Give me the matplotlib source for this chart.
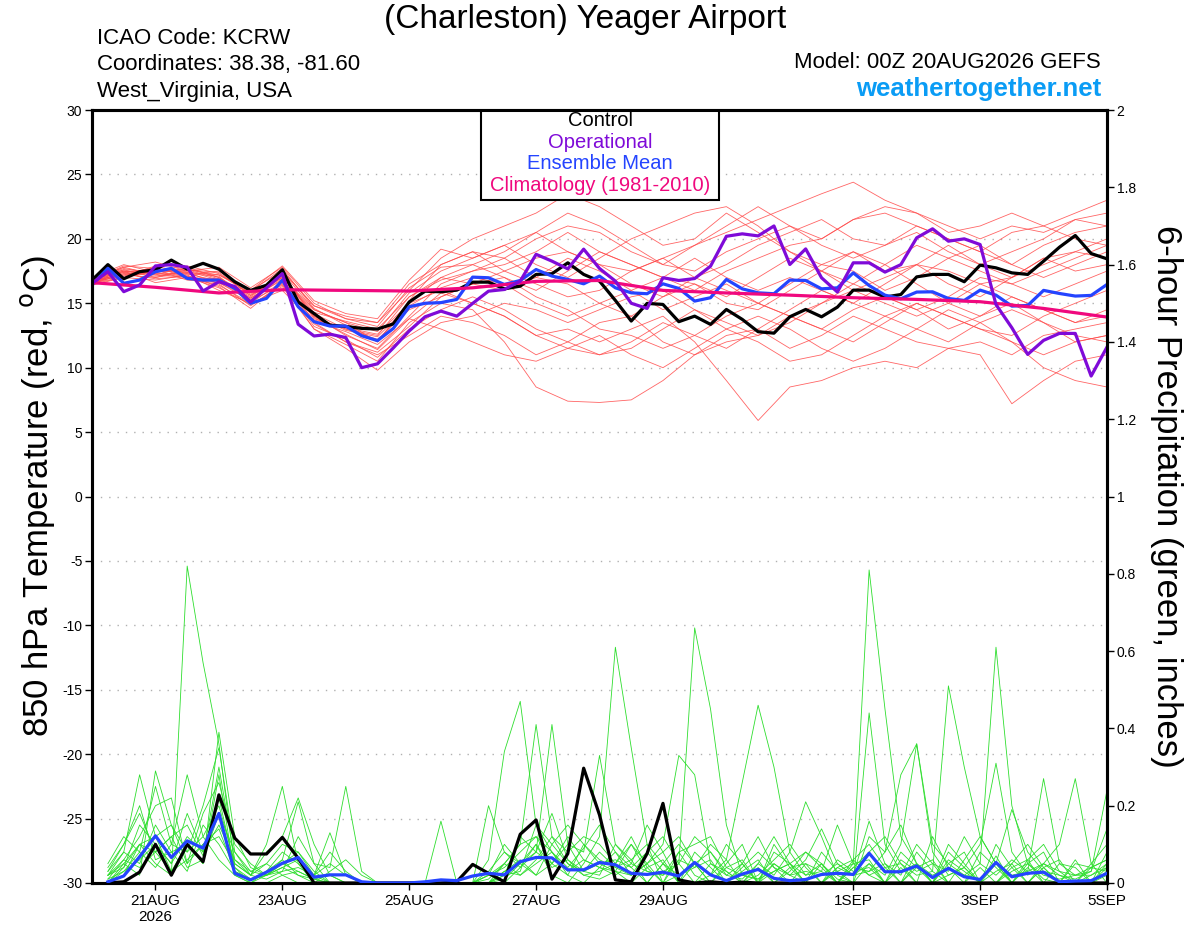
import numpy as np
import matplotlib
matplotlib.use("Agg")
import matplotlib.pyplot as plt
from matplotlib.patches import Rectangle

plt.rcParams['font.family'] = ['Liberation Sans', 'DejaVu Sans']

# --- Chart data ---
# x axis is days since 20AUG2026 00Z, 6-hourly steps for the main lines
TICK_DAYS = [1, 3, 5, 7, 9, 12, 14, 16]
TICK_LABELS = ['21AUG\n2026', '23AUG', '25AUG', '27AUG', '29AUG', '1SEP', '3SEP', '5SEP']

control_temp = [16.8, 18.0, 16.9, 17.45, 17.6, 18.35, 17.65, 18.1, 17.65, 16.67, 16.0, 16.4, 17.6,
                15.1, 14.2, 13.3, 13.2, 13.05, 13.0, 13.4, 15.1, 15.94, 15.89, 16.02, 16.64, 16.64,
                16.12, 16.33, 17.24, 17.29, 18.14, 17.24, 16.72, 15.22, 13.62, 14.99, 14.91, 13.57,
                14.0, 13.36, 14.52, 13.75, 12.79, 12.68, 13.95, 14.52, 13.95, 14.7, 16.02, 16.02,
                15.48, 15.68, 17.05, 17.24, 17.24, 16.67, 17.96, 17.75, 17.36, 17.24, 18.27, 19.35,
                20.26, 18.86, 18.45]

oper_temp = [16.55, 17.45, 15.9, 16.42, 17.9, 18.0, 17.8, 15.95, 16.67, 16.3, 15.1, 16.2, 17.3,
             13.37, 12.46, 12.6, 12.34, 10.0, 10.3, 11.54, 12.85, 13.95, 14.39, 14.0, 14.99, 15.94,
             16.07, 16.72, 18.8, 18.27, 17.67, 19.2, 17.7, 16.72, 15.0, 14.6, 16.98, 16.77, 16.92,
             17.88, 20.2, 20.39, 20.23, 21.0, 18.01, 19.22, 16.98, 15.87, 18.14, 18.14, 17.42, 18.0,
             20.08, 20.78, 19.82, 20.0, 19.56, 14.9, 13.1, 11.03, 12.12, 12.66, 12.66, 9.35, 11.6]

mean_temp = [16.42, 17.71, 16.55, 16.8, 17.45, 17.71, 16.93, 16.8, 16.8, 16.15, 15.0, 15.38, 16.8,
             14.73, 13.57, 13.23, 13.23, 12.48, 12.1, 13.05, 14.73, 15.0, 15.05, 15.3, 17.03, 16.98,
             16.46, 16.77, 17.62, 17.11, 16.85, 16.51, 17.11, 16.2, 15.81, 15.74, 16.51, 16.15,
             15.17, 15.43, 16.85, 16.12, 15.81, 15.74, 16.8, 16.77, 16.12, 16.2, 17.36, 16.38,
             15.63, 15.35, 15.87, 15.89, 15.37, 15.22, 16.02, 15.63, 14.78, 14.83, 16.0, 15.76,
             15.56, 15.61, 16.46]

# climatology, one value per day (day 0 .. 16)
clim_temp = [16.6, 16.24, 15.8, 16.05, 16.0, 15.95, 16.2, 16.7, 16.77, 16.0, 15.8, 15.63,
             15.43, 15.3, 15.12, 14.6, 13.93]

# ensemble members, 12-hourly (day 0 .. 16)
red_members = [
    [16.6, 17.2, 17.8, 17.0, 16.9, 15.5, 17.2, 14.0, 12.5, 11.5, 14.0, 16.5, 17.5, 18.0, 19.0, 20.5, 19.0,
     18.0, 17.0, 16.0, 17.5, 18.5, 19.5, 20.0, 21.5, 22.0, 21.0, 20.0, 19.0, 20.5, 21.0, 22.0, 23.0],
    [16.9, 17.6, 17.0, 17.4, 16.5, 14.8, 16.5, 13.0, 11.8, 10.5, 13.5, 15.0, 14.5, 12.0, 8.5, 7.4, 7.3,
     7.5, 9.0, 11.0, 12.0, 12.5, 14.0, 13.0, 12.0, 13.5, 15.0, 14.0, 13.0, 12.5, 14.0, 15.0, 16.0],
    [16.5, 17.0, 17.5, 17.6, 17.2, 15.8, 17.0, 14.5, 13.5, 12.0, 15.0, 16.0, 15.0, 14.0, 12.5, 13.0, 12.0,
     13.0, 14.0, 12.0, 9.0, 5.9, 8.5, 9.0, 10.0, 10.5, 10.0, 11.5, 12.0, 11.0, 12.5, 13.0, 13.5],
    [16.7, 17.8, 18.2, 17.5, 17.8, 16.2, 17.8, 15.0, 13.8, 13.5, 16.5, 18.0, 19.0, 18.5, 20.0, 21.0, 20.5,
     19.0, 18.0, 19.5, 20.5, 21.5, 22.5, 23.5, 24.4, 23.0, 22.0, 21.0, 20.0, 21.0, 20.5, 21.5, 22.0],
    [16.8, 17.5, 17.2, 17.8, 17.0, 15.2, 17.5, 14.8, 14.0, 13.5, 16.0, 18.5, 20.0, 21.0, 22.0, 23.5, 22.5,
     21.0, 19.5, 20.0, 22.0, 20.5, 19.0, 18.0, 19.0, 17.5, 18.0, 19.5, 18.0, 17.0, 18.5, 19.0, 20.0],
    [16.4, 17.0, 16.8, 17.2, 16.0, 15.0, 16.0, 13.5, 12.0, 11.0, 12.5, 14.0, 13.5, 12.5, 11.0, 12.0, 13.5,
     14.0, 12.0, 11.0, 12.5, 13.0, 11.5, 12.5, 14.0, 13.0, 12.0, 11.5, 11.0, 7.2, 9.0, 10.5, 11.0],
    [16.6, 17.4, 17.6, 16.8, 16.6, 15.4, 17.0, 14.2, 13.0, 12.5, 15.5, 17.0, 16.5, 17.5, 16.5, 15.5, 16.0,
     17.5, 18.5, 17.0, 16.0, 15.0, 16.5, 18.0, 17.5, 16.0, 17.0, 18.5, 19.5, 18.0, 17.0, 18.0, 19.0],
    [17.0, 18.0, 17.4, 17.6, 17.4, 15.6, 17.4, 14.5, 13.5, 12.8, 15.8, 17.5, 18.5, 19.5, 18.0, 17.0, 18.5,
     20.0, 21.0, 22.0, 22.5, 21.0, 19.0, 17.5, 16.0, 17.0, 18.0, 16.5, 15.5, 17.0, 18.5, 17.5, 18.0],
    [16.5, 17.3, 16.9, 17.1, 16.3, 14.6, 16.6, 13.2, 12.2, 10.8, 13.0, 14.5, 15.5, 14.5, 13.0, 12.0, 11.0,
     11.5, 13.0, 14.5, 13.0, 12.0, 10.5, 11.0, 12.5, 14.0, 15.0, 14.0, 13.0, 12.0, 10.0, 9.0, 8.5],
    [16.8, 17.7, 17.3, 17.3, 17.1, 15.1, 17.3, 13.8, 13.0, 12.2, 14.5, 15.5, 16.5, 16.0, 17.0, 18.5, 17.5,
     16.0, 14.5, 15.5, 16.5, 15.0, 14.0, 15.0, 16.5, 15.5, 14.5, 15.5, 17.0, 16.5, 15.5, 16.5, 17.5],
    [16.7, 17.1, 17.9, 17.3, 16.7, 15.9, 17.7, 14.6, 13.3, 12.0, 15.2, 18.0, 19.0, 17.5, 18.5, 19.0, 18.0,
     16.5, 15.5, 17.0, 18.0, 19.5, 20.5, 21.5, 20.0, 19.5, 20.5, 19.0, 18.0, 19.0, 20.0, 21.5, 21.0],
    [16.9, 17.4, 17.1, 17.5, 16.8, 15.3, 16.9, 13.6, 12.8, 11.8, 13.8, 13.0, 12.0, 11.0, 10.5, 11.5, 12.5,
     11.0, 10.0, 11.5, 13.0, 14.0, 13.0, 11.5, 10.5, 11.5, 13.0, 14.5, 13.5, 12.0, 11.0, 12.0, 12.5],
    [16.6, 17.6, 17.5, 17.9, 17.3, 15.7, 17.1, 14.3, 13.6, 13.0, 15.5, 16.8, 17.5, 18.5, 17.0, 16.5, 15.0,
     14.0, 15.5, 16.5, 15.0, 14.5, 16.0, 17.5, 19.0, 18.0, 16.5, 15.0, 14.0, 15.5, 14.5, 13.5, 14.5],
    [16.8, 17.9, 17.7, 17.2, 17.5, 16.0, 17.9, 15.2, 14.2, 13.8, 16.8, 19.2, 18.5, 19.5, 20.5, 19.0, 18.0,
     17.5, 18.5, 19.5, 21.0, 22.5, 21.0, 20.0, 21.5, 22.5, 22.0, 20.5, 21.0, 22.0, 21.0, 20.0, 19.5],
    [16.5, 17.5, 16.6, 17.0, 16.2, 14.9, 16.3, 13.0, 11.5, 9.8, 12.0, 13.5, 14.0, 15.0, 14.5, 13.5, 14.5,
     15.5, 16.0, 14.5, 13.5, 12.5, 13.5, 15.0, 16.0, 15.0, 14.0, 15.0, 16.5, 15.5, 14.5, 13.5, 14.0],
    [16.7, 17.3, 17.4, 17.7, 17.0, 15.6, 17.0, 14.0, 12.9, 12.4, 14.8, 16.2, 17.0, 16.5, 15.0, 14.0, 15.0,
     16.0, 17.0, 18.5, 17.0, 16.0, 17.0, 16.0, 15.0, 16.5, 18.0, 17.5, 16.5, 17.0, 18.0, 19.0, 18.5],
    [16.9, 17.8, 17.2, 17.0, 16.4, 15.0, 16.7, 13.4, 12.0, 11.2, 13.2, 15.5, 16.5, 17.0, 15.5, 14.5, 13.0,
     12.5, 11.5, 12.5, 14.0, 15.0, 14.0, 13.0, 14.5, 15.5, 14.5, 13.0, 14.0, 15.0, 13.5, 12.0, 12.5],
    [16.6, 17.0, 17.6, 17.4, 17.2, 16.0, 17.5, 14.8, 13.8, 13.2, 16.2, 17.8, 18.0, 19.0, 20.5, 22.0, 21.0,
     19.5, 18.0, 17.5, 19.0, 20.0, 21.0, 19.5, 18.5, 19.5, 21.0, 20.0, 19.0, 18.0, 19.5, 20.5, 21.0],
    [16.8, 17.2, 17.0, 17.6, 16.9, 15.4, 16.8, 13.9, 12.6, 11.4, 13.8, 15.8, 15.0, 14.0, 12.5, 11.5, 11.0,
     12.0, 13.5, 12.5, 11.5, 13.0, 14.5, 16.0, 15.0, 14.0, 13.0, 12.0, 13.5, 14.5, 13.5, 12.5, 12.0],
    [16.7, 17.5, 17.3, 17.1, 16.6, 15.2, 16.4, 13.7, 13.1, 12.6, 15.0, 17.0, 18.0, 17.0, 16.0, 17.5, 19.0,
     18.0, 17.0, 16.5, 15.5, 17.0, 18.5, 17.5, 16.5, 18.0, 19.5, 18.5, 17.5, 16.5, 17.5, 18.5, 19.5],
]

# 6-hour precipitation, steps 1 .. 64 (inches)
control_precip = [0, .003, .028, .10, .02, .10, .055, .228, .116, .075, .075, .118, .064, 0, 0, 0,
                  0, 0, 0, 0, 0, 0, .003, .048, .025, .003, .126, .163, .010, .076, .297, .176,
                  .008, .003, .076, .206, .008, 0, .003, 0, .002, 0, 0, 0, 0, 0, 0, 0,
                  0, 0, 0, 0, 0, 0, 0, 0, 0, 0, 0, 0, 0, 0, 0, 0]

mean_precip = [.003, .018, .068, .122, .066, .109, .09, .18, .025, .008, .028, .051, .066, .015, .021, .021,
               .003, 0, 0, 0, .003, .008, .006, .018, .025, .021, .055, .066, .065, .034, .034, .053,
               .047, .025, .022, .028, .018, .053, .021, .006, .023, .035, .012, .006, .009, .022, .025, .022,
               .077, .029, .029, .044, .014, .038, .016, .009, .053, .016, .025, .028, .003, .005, .006, .025]

green_members = [
    [0, .04, .10, .05, .02, .82, .57, .36, .04, 0, 0, .02, 0, 0, 0, 0,
     0, 0, 0, 0, 0, 0, 0, 0, .03, .08, .04, .10, .02, 0, .05, .12,
     .61, .35, .10, 0, .02, .05, .08, .03, 0, .02, .06, .10, .04, 0, .03, .05,
     .81, .45, .12, .05, 0, .02, .04, 0, 0, .03, .05, .01, 0, 0, .02, .05],
    [.02, .08, .28, .12, .03, .10, .05, .39, .12, .04, .02, .05, .03, .01, 0, 0,
     0, 0, 0, 0, 0, 0, 0, 0, .06, .34, .47, .15, .08, .02, 0, .04,
     .08, .02, .05, .10, .33, .28, .05, .02, .01, .05, .02, .08, .21, .12, .02, 0,
     .05, .02, .10, .36, .08, .02, .04, .10, .31, .08, .02, .05, .10, .27, .05, .10],
    [0, .05, .02, .29, .15, .08, .20, .35, .08, .02, .10, .25, .05, 0, 0, 0,
     0, 0, 0, 0, 0, 0, 0, 0, .02, .05, .10, .41, .12, .05, .02, .03,
     .05, .10, .03, .02, .05, .66, .45, .15, .02, .01, .03, .05, .02, .03, .15, .05,
     .02, .04, .05, .02, .03, .51, .30, .12, .05, .02, .03, .05, .03, .02, .02, .04],
    [.03, .10, .18, .08, .12, .15, .07, .30, .06, .03, .02, .06, .21, .05, 0, 0,
     0, 0, 0, 0, 0, .16, 0, 0, 0, .02, .12, .08, .41, .10, .03, .05,
     .03, .02, .05, .08, .12, .05, .02, .06, .26, .46, .30, .08, .02, .05, .01, 0,
     .44, .10, .03, .05, .02, .04, .02, .05, .61, .20, .05, .02, .01, .02, .03, .24],
    [.05, .12, .08, .25, .10, .28, .12, .20, .05, .02, .05, .10, .08, .02, .13, .02,
     0, 0, 0, 0, 0, 0, 0, 0, .20, .08, .05, .02, .05, .10, .08, .33,
     .10, .05, .03, .02, .08, .10, .12, .04, .02, .01, .05, .02, .06, .14, .05, .02,
     .03, .08, .28, .36, .10, .05, .02, .01, .05, .19, .08, .03, .02, .01, .03, .14],
    [.01, .06, .12, .20, .22, .05, .18, .26, .10, .05, .02, .03, .12, .05, .04, .25,
     .03, 0, 0, 0, 0, 0, 0, 0, 0, .05, .10, .12, .05, .02, .10, .06,
     .04, .02, .08, .03, .05, .12, .08, .02, .05, .12, .04, .02, .03, .02, .05, .02,
     .16, .05, .02, .10, .05, .03, .12, .05, .02, .06, .03, .27, .05, .02, .04, .06],
    [.02, .04, .15, .10, .05, .12, .08, .22, .04, .01, .03, .08, .05, .02, .08, .03,
     0, 0, 0, 0, 0, 0, 0, 0, .02, .10, .05, .08, .18, .06, .02, .01,
     .03, .10, .05, 0, .08, .02, 0, .05, .10, 0, .05, .02, 0, 0, .04, .06,
     .02, 0, .04, 0, .12, .04, 0, 0, .10, .04, 0, .05, .02, 0, 0, .03],
    [.03, .08, .05, .15, .08, .10, .05, .28, .02, 0, .02, .05, .08, .03, 0, 0,
     0, 0, 0, 0, 0, 0, 0, 0, 0, .03, .06, .02, .10, .15, .10, .05,
     .06, .04, .08, .12, .05, 0, .02, .10, .05, 0, .08, .05, 0, .08, .03, 0,
     .12, .08, .15, .05, 0, .05, .08, 0, .05, 0, .06, .10, .03, 0, 0, .08],
    [0, .02, .10, .12, .15, .05, .10, .12, .05, .02, .08, .12, .22, .10, .02, 0,
     0, 0, 0, 0, 0, 0, 0, 0, 0, 0, .04, .08, .05, .12, .06, .04,
     .02, .05, .15, .08, 0, 0, .05, .03, 0, .05, .12, .05, 0, 0, .04, .02,
     .05, 0, 0, .08, .03, 0, .06, .12, .05, 0, 0, .04, .06, 0, 0, .02],
    [.04, .10, .20, .06, .08, .03, .15, .10, .03, .01, .02, .04, .02, .01, 0, 0,
     0, 0, 0, 0, 0, 0, 0, 0, .01, .05, .02, .06, .12, .08, .12, .10,
     .05, .12, .04, 0, .06, .04, .10, .06, 0, .04, 0, .03, .08, .05, 0, .06,
     .10, .04, 0, .05, 0, .08, .04, 0, .03, .05, .10, .04, 0, 0, .05, 0],
    [.01, .03, .06, .10, .05, .18, .08, .15, .06, .02, .01, .03, .04, .02, .05, .02,
     0, 0, 0, 0, 0, 0, 0, 0, .02, .04, .08, .12, .08, .04, .09, .15,
     .08, .04, 0, .05, .10, .05, 0, 0, .04, .08, .04, 0, .05, .03, 0, .04,
     .08, .12, .05, 0, 0, .10, .05, 0, 0, .04, .06, 0, 0, .05, .04, .06],
    [.02, .05, .10, .08, .12, .04, .06, .18, .08, .03, .05, .02, .03, .01, .02, 0,
     0, 0, 0, 0, 0, 0, 0, 0, 0, .02, .03, .15, .10, .05, .03, .08,
     .04, .06, .10, .05, 0, .08, .04, 0, .03, .06, 0, .04, .05, 0, .06, .03,
     .04, 0, .06, .03, .05, 0, 0, .08, .04, 0, .05, .08, 0, 0, .04, .03],
    [0, .03, .08, .04, .10, .08, .12, .06, .02, 0, .03, .06, .02, 0, .03, .06,
     .02, 0, 0, 0, 0, 0, 0, 0, 0, .01, .05, .10, .04, .06, .03, .02,
     .10, .06, 0, .05, .02, .04, .06, 0, .05, 0, .03, .05, .08, .04, 0, .05,
     .06, 0, .08, .04, 0, .06, .03, 0, .07, 0, .04, 0, .05, .04, 0, .05],
    [.02, .06, .04, .08, .03, .06, .10, .14, .03, .01, .02, .04, .06, .02, 0, 0,
     0, 0, 0, 0, 0, 0, 0, 0, 0, .03, .02, .05, .08, .03, .06, .04,
     .03, 0, .04, .06, 0, .05, 0, .04, .06, 0, .10, .04, 0, .05, 0, .04,
     .03, .05, 0, .04, .06, 0, 0, .04, 0, .05, 0, .04, 0, .06, 0, .04],
]

# --- Colours ---
RED = '#ff4a4a'
GREEN = '#2ede2e'
PURPLE = '#7f0ad8'
BLUE = '#2444ff'
MAGENTA = '#f0087e'
WEB_BLUE = '#0a9cf5'


def main():
    fig = plt.figure(figsize=(12, 9.27), dpi=100)
    ax = fig.add_axes([0.0767, 0.0475, 0.8458, 0.8338])
    ax2 = ax.twinx()

    t6 = np.arange(len(control_temp)) * 0.25
    t12 = np.arange(len(red_members[0])) * 0.5
    t_clim = np.arange(len(clim_temp))
    t_prcp = np.arange(1, len(control_precip) + 1) * 0.25

    # temperature (left axis)
    for m in red_members:
        ax.plot(t12, m, color=RED, lw=0.6, alpha=0.85, zorder=2)
    ax.plot(t6, control_temp, color='black', lw=2.3, zorder=4)
    ax.plot(t6, mean_temp, color=BLUE, lw=2.3, zorder=5)
    ax.plot(t_clim, clim_temp, color=MAGENTA, lw=2.3, zorder=6)
    ax.plot(t6, oper_temp, color=PURPLE, lw=2.3, zorder=7)

    # precipitation (right axis)
    for m in green_members:
        ax2.plot(t_prcp, m, color=GREEN, lw=0.6, zorder=2)
    ax2.plot(t_prcp, control_precip, color='black', lw=2.3, zorder=4)
    ax2.plot(t_prcp, mean_precip, color=BLUE, lw=2.3, zorder=5)

    ax.set_xlim(0, 16)
    ax.set_ylim(-30, 30)
    ax2.set_ylim(0, 2)
    ax.set_yticks(np.arange(-30, 31, 5))
    ax.set_yticklabels([str(v) for v in range(-30, 31, 5)])
    ax2.set_yticks(np.arange(0, 2.01, 0.2))
    ax2.set_yticklabels(['0', '0.2', '0.4', '0.6', '0.8', '1', '1.2', '1.4', '1.6', '1.8', '2'])
    ax.set_xticks(TICK_DAYS)
    ax.set_xticklabels(TICK_LABELS)

    for v in range(-25, 30, 5):
        ax.axhline(v, color='#b0b0b0', lw=1.0, ls=(0, (1, 5)), zorder=1)

    ax.tick_params(axis='y', direction='out', length=5, width=1, labelsize=10, pad=2)
    ax2.tick_params(axis='y', direction='out', length=5, width=1, labelsize=10, pad=2)
    ax.tick_params(axis='x', direction='out', length=5, width=1, labelsize=11, pad=3)
    for a in (ax, ax2):
        for s in a.spines.values():
            s.set_linewidth(2.2)

    ax.set_ylabel('850 hPa Temperature (red, $^{\\mathrm{o}}$C)', fontsize=25, labelpad=4)
    ax2.set_ylabel('6-hour Precipitation (green, inches)', fontsize=25, rotation=270, labelpad=34)

    # legend box at the top of the plot
    ax.add_patch(Rectangle((0.383, 0.884), 0.235, 0.116, transform=ax.transAxes,
                           facecolor='white', edgecolor='black', lw=1.5, zorder=10))
    legend_items = [('Control', 'black'), ('Operational', PURPLE),
                    ('Ensemble Mean', BLUE), ('Climatology (1981-2010)', MAGENTA)]
    for i, (txt, col) in enumerate(legend_items):
        ax.text(0.5005, 0.986 - i * 0.0277, txt, color=col, fontsize=14.5, ha='center',
                va='center', transform=ax.transAxes, zorder=11)

    # header texts
    fig.text(0.488, 0.979, '(Charleston) Yeager Airport', fontsize=24, ha='center', va='center')
    fig.text(0.081, 0.959, 'ICAO Code: KCRW', fontsize=16, ha='left', va='center')
    fig.text(0.081, 0.930, 'Coordinates: 38.38, -81.60', fontsize=16, ha='left', va='center')
    fig.text(0.081, 0.901, 'West_Virginia, USA', fontsize=16, ha='left', va='center')
    fig.text(0.9175, 0.933, 'Model: 00Z 20AUG2026 GEFS', fontsize=16, ha='right', va='center')
    fig.text(0.9175, 0.904, 'weathertogether.net', fontsize=18.5, fontweight='bold',
             color=WEB_BLUE, ha='right', va='center')

    fig.savefig('out.png', dpi=100)
    plt.close(fig)


if __name__ == "__main__":
    main()
